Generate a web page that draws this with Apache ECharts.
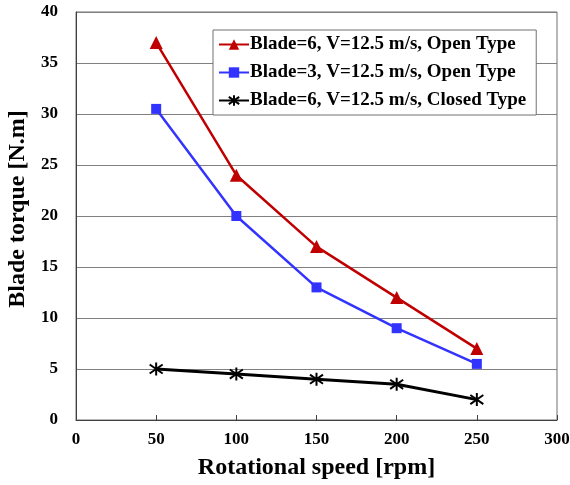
<!DOCTYPE html>
<html>
<head>
<meta charset="utf-8">
<script src="https://cdn.jsdelivr.net/npm/echarts@6/dist/echarts.min.js"></script>
<style>
  html, body { margin: 0; padding: 0; background: #fff; }
  #chart { width: 570px; height: 485px; }
</style>
</head>
<body>
<div id="chart"></div>
<script>
// rotational speed [rpm]
var speeds = [50, 100, 150, 200, 250];
// blade torque [N.m]
var blade6Open = [37, 24, 17, 12, 7];
var blade3Open = [30.5, 20, 13, 9, 5.5];
var blade6Closed = [5, 4.5, 4, 3.5, 2];
var seriesNames = [
  'Blade=6, V=12.5 m/s, Open Type',
  'Blade=3, V=12.5 m/s, Open Type',
  'Blade=6, V=12.5 m/s, Closed Type'
];

function pairs(xs, ys) {
  var out = [];
  for (var i = 0; i < xs.length; i++) out.push([xs[i], ys[i]]);
  return out;
}

var font = '"Liberation Serif", "Times New Roman", serif';
// asterisk marker: vertical stroke plus two diagonals
var star = 'path://M5,0 L5,10 M0.5,1.5 L9.5,8.5 M9.5,1.5 L0.5,8.5';

var myChart = echarts.init(document.getElementById('chart'));
var option = {
  backgroundColor: '#fff',
  animation: false,
  grid: {
    left: 76, right: 13, top: 12, bottom: 65,
    outerBoundsMode: 'none', containLabel: false,
    show: true, borderColor: '#707070', borderWidth: 1
  },
  legend: {
    orient: 'vertical',
    left: 213,
    top: 30,
    padding: [5, 10, 5, 5],
    itemGap: 9,
    itemWidth: 30,
    itemHeight: 13,
    backgroundColor: '#fff',
    borderColor: '#707070',
    borderWidth: 1,
    borderRadius: 0,
    textStyle: { fontFamily: font, fontWeight: 'bold', fontSize: 19, color: '#000', padding: [0, 0, 0, -4] },
    data: seriesNames
  },
  xAxis: {
    type: 'value',
    min: 0, max: 300, interval: 50,
    name: 'Rotational speed [rpm]',
    nameLocation: 'middle',
    nameGap: 36,
    nameTextStyle: { fontFamily: font, fontWeight: 'bold', fontSize: 24, color: '#000' },
    axisLine: { show: true, lineStyle: { color: '#404040', width: 1 } },
    axisTick: { show: true, inside: true, length: 5, lineStyle: { color: '#404040' } },
    axisLabel: { fontFamily: font, fontWeight: 'bold', fontSize: 17, color: '#000', margin: 11 },
    splitLine: { show: false }
  },
  yAxis: {
    type: 'value',
    min: 0, max: 40, interval: 5,
    name: 'Blade torque [N.m]',
    nameLocation: 'middle',
    nameGap: 44,
    nameTextStyle: { fontFamily: font, fontWeight: 'bold', fontSize: 24, color: '#000', padding: [0, 0, 0, 14] },
    axisLine: { show: true, lineStyle: { color: '#404040', width: 1 } },
    axisTick: { show: false },
    axisLabel: { fontFamily: font, fontWeight: 'bold', fontSize: 17, color: '#000', margin: 18 },
    splitLine: { show: true, lineStyle: { color: '#808080', width: 1 } }
  },
  series: [
    {
      name: seriesNames[0],
      type: 'line',
      data: pairs(speeds, blade6Open),
      symbol: 'triangle',
      symbolSize: 13,
      color: '#C00000',
      lineStyle: { width: 2.5, color: '#C00000' },
      itemStyle: { color: '#C00000' }
    },
    {
      name: seriesNames[1],
      type: 'line',
      data: pairs(speeds, blade3Open),
      symbol: 'rect',
      symbolSize: 10,
      color: '#3333FF',
      lineStyle: { width: 2.5, color: '#3333FF' },
      itemStyle: { color: '#3333FF' }
    },
    {
      name: seriesNames[2],
      type: 'line',
      data: pairs(speeds, blade6Closed),
      symbol: star,
      symbolSize: 13,
      color: '#000',
      lineStyle: { width: 3, color: '#000' },
      itemStyle: { color: 'transparent', borderColor: '#000', borderWidth: 2 }
    }
  ]
};
myChart.setOption(option);
</script>
</body>
</html>
